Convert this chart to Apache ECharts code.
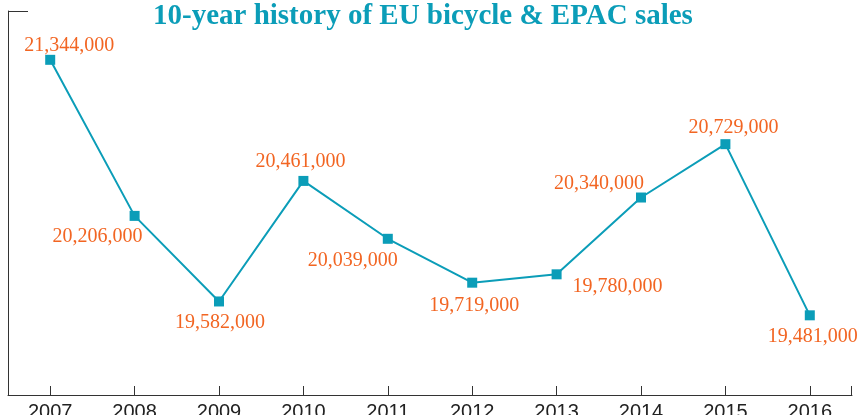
<!DOCTYPE html>
<html>
<head>
<meta charset="utf-8">
<script src="https://cdn.jsdelivr.net/npm/echarts@6/dist/echarts.min.js"></script>
<style>
  html, body { margin: 0; padding: 0; background: #fff; }
  #main { width: 857px; height: 415px; }
</style>
</head>
<body>
<div id="main"></div>
<script>
var years = ['2007', '2008', '2009', '2010', '2011', '2012', '2013', '2014', '2015', '2016'];
var sales = [21344000, 20206000, 19582000, 20461000, 20039000, 19719000, 19780000, 20340000, 20729000, 19481000];

// where each value label sits relative to its marker
var labelOffsets = [[19, -14], [-37, 21], [1, 21], [-3, -19], [-35, 22], [2, 23], [61, 12], [-42, -14], [8, -16], [3, 21]];

var teal = '#0b9db8';
var orange = '#f26522';
var axisColor = '#333';

var myChart = echarts.init(document.getElementById('main'));

var seriesData = sales.map(function (v, i) {
    return {
        value: v,
        label: { offset: labelOffsets[i] }
    };
});

var option = {
    animation: false,
    title: {
        text: '10-year history of EU bicycle & EPAC sales',
        left: 148,
        top: -3,
        textStyle: {
            fontFamily: 'Liberation Serif',
            fontWeight: 'bold',
            fontSize: 29,
            color: teal
        }
    },
    grid: {
        left: 8,
        right: 5,
        top: 11,
        bottom: 20,
        containLabel: false,
        outerBoundsMode: 'none'
    },
    // small stub at the top of the y axis and the closing tick at the right end
    graphic: [
        { type: 'line', shape: { x1: 8, y1: 11.5, x2: 28, y2: 11.5 }, style: { stroke: axisColor, lineWidth: 1 } },
        { type: 'line', shape: { x1: 851.5, y1: 395, x2: 851.5, y2: 386 }, style: { stroke: axisColor, lineWidth: 1 } }
    ],
    xAxis: {
        type: 'category',
        data: years,
        boundaryGap: true,
        axisLine: { lineStyle: { color: axisColor, width: 1 } },
        axisTick: { show: true, alignWithLabel: true, inside: true, length: 9, lineStyle: { color: axisColor, width: 1 } },
        axisLabel: {
            margin: 7,
            fontFamily: 'Liberation Sans',
            fontSize: 20,
            color: '#222'
        }
    },
    yAxis: {
        type: 'value',
        min: 18900000,
        max: 21700000,
        axisLine: { show: true, lineStyle: { color: axisColor, width: 1 } },
        axisTick: { show: false },
        axisLabel: { show: false },
        splitLine: { show: false }
    },
    series: [
        {
            type: 'line',
            data: seriesData,
            symbol: 'rect',
            symbolSize: 10,
            lineStyle: { color: teal, width: 2 },
            itemStyle: { color: teal },
            label: {
                show: true,
                position: 'inside',
                fontFamily: 'Liberation Serif',
                fontSize: 20,
                color: orange,
                formatter: function (p) {
                    return p.value.toLocaleString('en-US');
                }
            }
        }
    ]
};

myChart.setOption(option);
</script>
</body>
</html>
